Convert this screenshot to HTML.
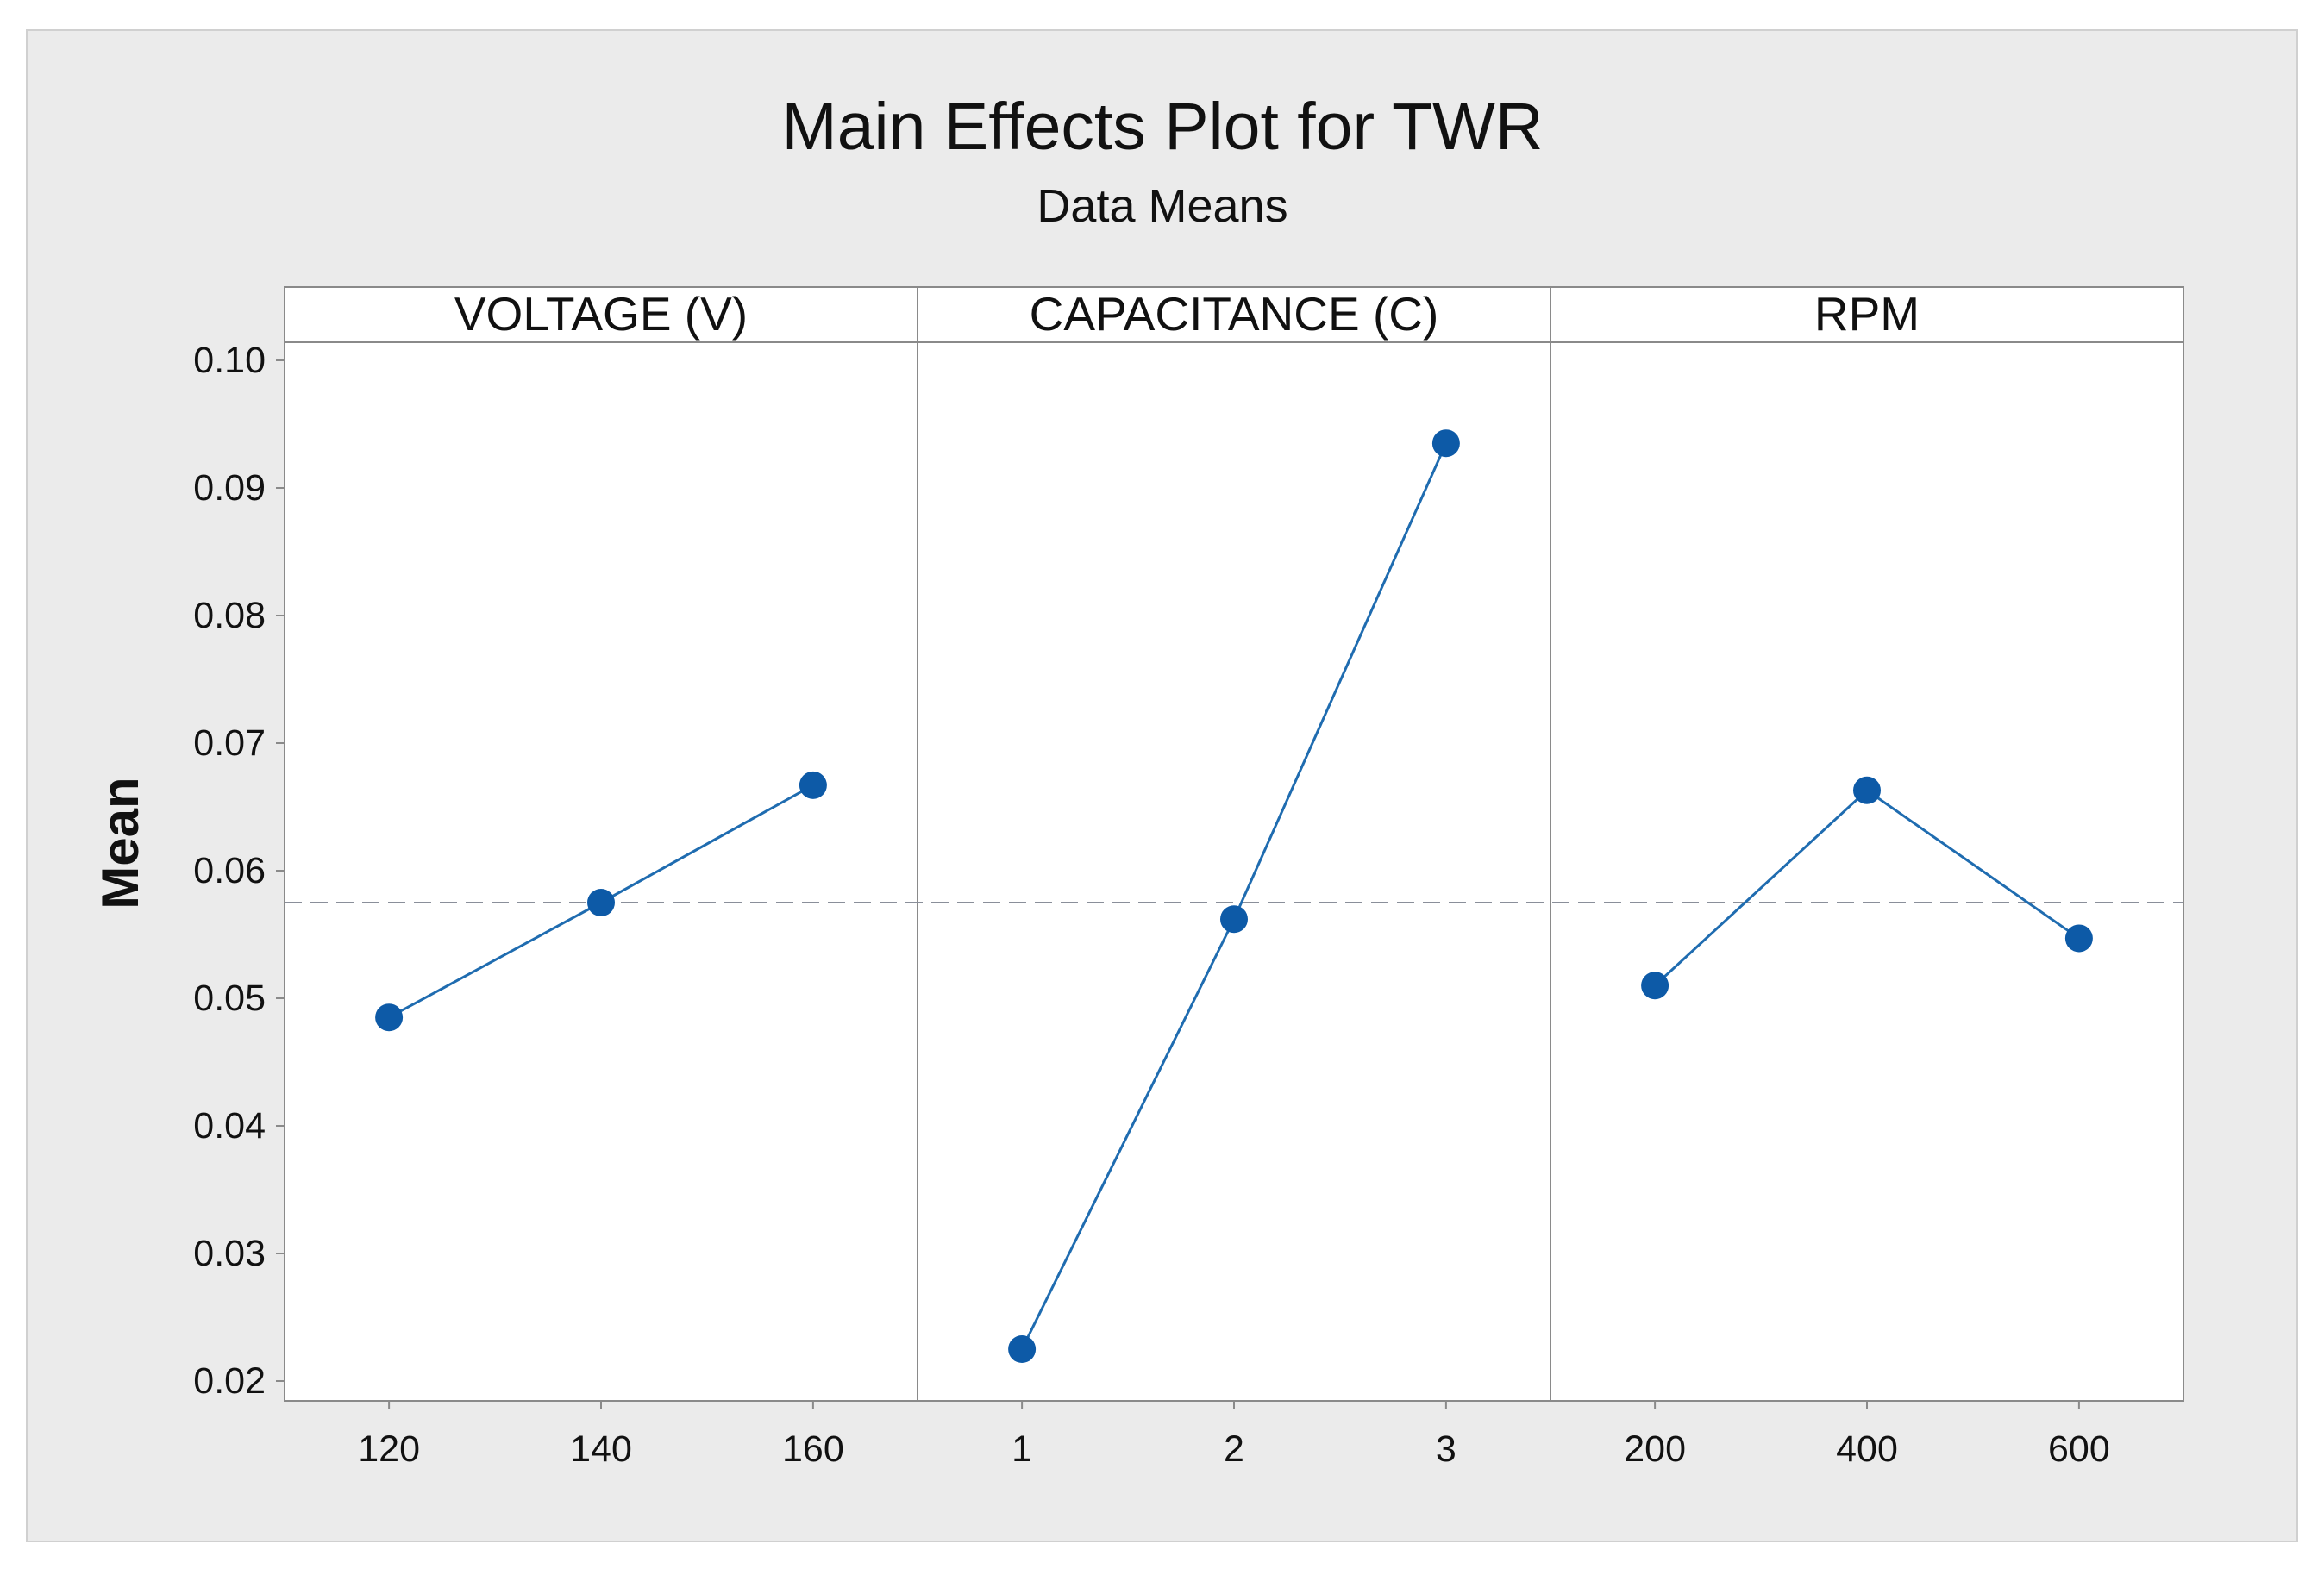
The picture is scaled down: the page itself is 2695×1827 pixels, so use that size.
<!DOCTYPE html>
<html><head><meta charset="utf-8"><style>
body{margin:0;background:#fff;}
svg text{font-family:"Liberation Sans",sans-serif;fill:#111;}
</style></head><body>
<svg width="2695" height="1822" viewBox="0 0 2695 1822" xmlns="http://www.w3.org/2000/svg">
<rect x="0" y="0" width="2695" height="1822" fill="#ffffff"/>
<rect x="31" y="35" width="2633" height="1753" fill="#ebebeb" stroke="#d0d0d0" stroke-width="2"/>
<text x="1348" y="173" font-size="77" text-anchor="middle">Main Effects Plot for TWR</text>
<text x="1348" y="257" font-size="54" text-anchor="middle">Data Means</text>
<text transform="translate(160,978) rotate(-90)" font-size="60" font-weight="bold" text-anchor="middle">Mean</text>
<g id="g"></g>
</svg>
<script>
const panelTitles=["VOLTAGE (V)","CAPACITANCE (C)","RPM"];
const levelLabels=[["120","140","160"],["1","2","3"],["200","400","600"]];
const voltageMeans=[0.0485,0.0575,0.0667];
const capacitanceMeans=[0.0225,0.0562,0.0935];
const rpmMeans=[0.0510,0.0663,0.0547];
const grandMean=0.0575;
const yTicks=[0.02,0.03,0.04,0.05,0.06,0.07,0.08,0.09,0.10];
const yTickLabels=["0.02","0.03","0.04","0.05","0.06","0.07","0.08","0.09","0.10"];

const series=[voltageMeans,capacitanceMeans,rpmMeans];
const NS="http://www.w3.org/2000/svg";
const g=document.getElementById('g');
const L=330,R=2532,T=333,SB=397,B=1625;
const pw=(R-L)/3;
function y(v){return 1602+(v-0.02)*(418-1602)/0.08;}
function x(p,i){return L+p*pw+pw*(0.165+i*0.335);}
function el(t,a,parent){const e=document.createElementNS(NS,t);for(const k in a)e.setAttribute(k,a[k]);(parent||g).appendChild(e);return e;}
for(let p=0;p<3;p++){
  const r=el('rect',{x:L+p*pw,y:T,width:pw,height:B-T,fill:'#fff',stroke:'#8a8a8a','stroke-width':2});
  
  
  el('line',{x1:L+p*pw,x2:L+(p+1)*pw,y1:SB,y2:SB,stroke:'#8a8a8a','stroke-width':2});
  const t=el('text',{x:L+p*pw+pw/2,y:T+50,'font-size':55,'text-anchor':'middle'});
  t.textContent=panelTitles[p];
  
  
  for(let i=0;i<3;i++){
    el('line',{x1:x(p,i),x2:x(p,i),y1:B,y2:B+10,stroke:'#8a8a8a','stroke-width':2});
    const lt=el('text',{x:x(p,i),y:B+70,'font-size':43,'text-anchor':'middle'});
    lt.textContent=levelLabels[p][i];
    
    
  }
}
yTicks.forEach((v,i)=>{
  el('line',{x1:L-10,x2:L,y1:y(v),y2:y(v),stroke:'#8a8a8a','stroke-width':2});
  const t=el('text',{x:L-22,y:y(v)+14,'font-size':43,'text-anchor':'end'});
  t.textContent=yTickLabels[i];
  
  
});
const ml=el('line',{x1:L,x2:R,y1:y(grandMean),y2:y(grandMean),stroke:'#8a8f9a','stroke-width':2,'stroke-dasharray':'20,10'});


series.forEach((s,p)=>{
  const pts=s.map((v,i)=>x(p,i)+','+y(v)).join(' ');
  const pl=el('polyline',{points:pts,fill:'none',stroke:'#1f6cb0','stroke-width':3});
  
  
  s.forEach((v,i)=>{
    const c=el('circle',{cx:x(p,i),cy:y(v),r:16,fill:'#0d5aa7'});
    
    
  });
});
</script>
</body></html>
